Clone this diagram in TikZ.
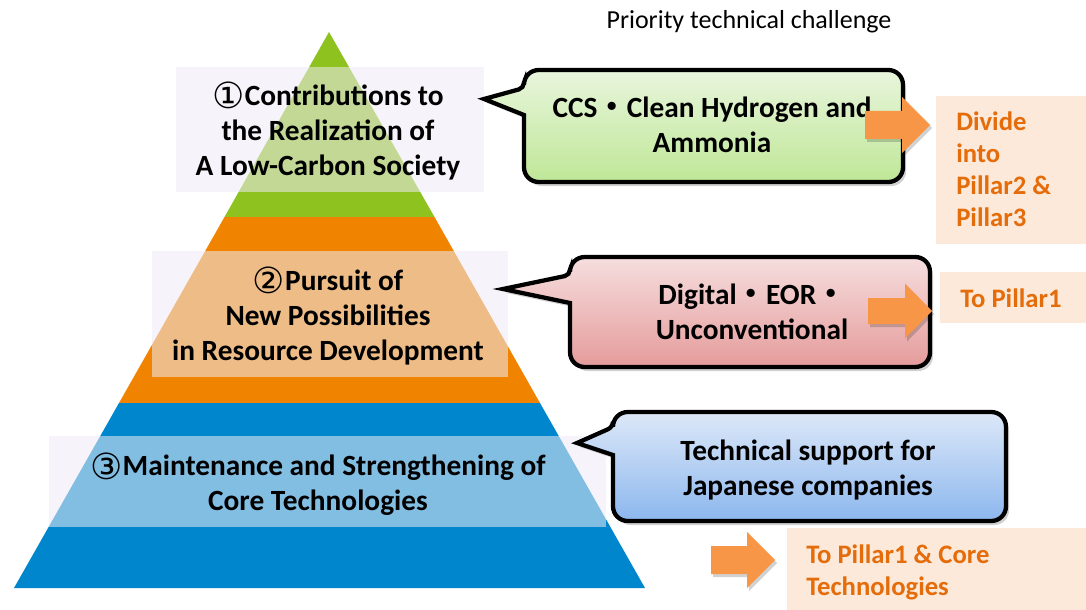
\documentclass[tikz,border=0pt]{standalone}
\usepackage{fontspec}
\setmainfont{Carlito}
\newfontfamily\circfont{DejaVu Sans}
\newfontfamily\jpfont{Noto Sans CJK JP}
\definecolor{pgreen}{HTML}{8DC21F}
\definecolor{porange}{HTML}{F08300}
\definecolor{pblue}{HTML}{0086CC}
\definecolor{labfill}{HTML}{EEEBF5}
\definecolor{gtop}{HTML}{E8F5DC}
\definecolor{gbot}{HTML}{BFE797}
\definecolor{rtop}{HTML}{F6DEDE}
\definecolor{rbot}{HTML}{E59B9B}
\definecolor{btop}{HTML}{DDE8F8}
\definecolor{bbot}{HTML}{8CB7EE}
\definecolor{arrowc}{HTML}{F79646}
\definecolor{peach}{HTML}{FDE9D9}
\definecolor{otext}{HTML}{E46C0A}
\newcommand\callpath[7]{(#1,#6) [rounded corners=11pt] -- (#1,#4) -- (#3,#4) -- (#3,#2) -- (#1,#2) [rounded corners=4pt] -- (#1,#5) [sharp corners] -- (#7) -- cycle}
\newcommand\arrowpath[6]{(#1,#4-#5) -- (#2,#4-#5) -- (#2,#4-#6) -- (#3,#4) -- (#2,#4+#6) -- (#2,#4+#5) -- (#1,#4+#5) -- cycle}
\newcommand\circled[1]{\raisebox{-0.12em}{\circfont\mdseries\fontsize{27}{26.25}\selectfont #1}}
\tikzset{
  labelbox/.style={fill=labfill, opacity=0.55},
  lbl/.style={align=center, inner sep=0pt, font=\bfseries\fontsize{22}{26.25}\selectfont},
  callout/.style={draw=black, line width=3.2pt},
  ctext/.style={align=center, inner sep=0pt, font=\bfseries\fontsize{22}{26.25}\selectfont},
  shadowc/.style={fill=black, opacity=0.18},
  orarrow/.style={fill=arrowc},
  obox/.style={fill=peach},
  otxt/.style={align=left, inner sep=0pt, text=otext, font=\bfseries\fontsize{20}{24}\selectfont},
}
\begin{document}
\begin{tikzpicture}[x=0.75pt,y=-0.75pt]
\useasboundingbox (0,0) rectangle (1086,610);
% pyramid
\fill[pgreen] (329,32) -- (434.5,217) -- (224.5,217) -- cycle;
\fill[porange] (224.5,217) -- (434.5,217) -- (540,403) -- (119,403) -- cycle;
\fill[pblue] (119,403) -- (540,403) -- (645,588) -- (14,588) -- cycle;
% label boxes
\fill[labelbox] (176,67) rectangle (484,192);
\fill[labelbox] (152,251) rectangle (508,377);
\fill[labelbox] (49,436) rectangle (606,527);
\node[lbl] (p1) at (328,131) {\circled{①}Contributions to\\the Realization of\\A Low-Carbon Society};
\node[lbl] (p2) at (328,316) {\circled{②}Pursuit of\\New Possibilities\\in Resource Development};
\node[lbl] (p3) at (318,484) {\circled{③}Maintenance and Strengthening of\\Core Technologies};
% title
\node[inner sep=0pt, font=\fontsize{19.5}{22}\selectfont] (title) at (749,22) {Priority technical challenge};
% callouts
\fill[shadowc] [shift={(3,4)}] \callpath{524}{70}{903}{182}{88}{115}{484,99};
\shadedraw[callout, top color=gtop, bottom color=gbot] \callpath{524}{70}{903}{182}{88}{115}{484,99};
\node[ctext] (c1) at (712,125) {CCS{\jpfont ・}Clean Hydrogen and\\Ammonia};
\fill[shadowc] [shift={(3,4)}] \callpath{570}{257}{930}{367}{275}{303}{503,289};
\shadedraw[callout, top color=rtop, bottom color=rbot] \callpath{570}{257}{930}{367}{275}{303}{503,289};
\node[ctext] (c2) at (752,312) {Digital{\jpfont ・}EOR{\jpfont ・}\\Unconventional};
\fill[shadowc] [shift={(3,4)}] \callpath{613}{412}{1006}{521}{427}{455}{577,443};
\shadedraw[callout, top color=btop, bottom color=bbot] \callpath{613}{412}{1006}{521}{427}{455}{577,443};
\node[ctext] (c3) at (808,470) {Technical support for\\Japanese companies};
% orange arrows
\fill[shadowc] [shift={(2,3)}] \arrowpath{865}{902}{930}{125}{14}{28};
\fill[orarrow] \arrowpath{865}{902}{930}{125}{14}{28};
\fill[shadowc] [shift={(2,3)}] \arrowpath{868}{905}{932}{311}{13}{27.5};
\fill[orarrow] \arrowpath{868}{905}{932}{311}{13}{27.5};
\fill[shadowc] [shift={(2,3)}] \arrowpath{711}{747}{775}{560}{14}{28};
\fill[orarrow] \arrowpath{711}{747}{775}{560}{14}{28};
% result boxes
\fill[obox] (936,96) rectangle (1086,244);
\node[otxt, anchor=north west] (r1) at (956,112) {Divide\\into\\Pillar2 \&\\Pillar3};
\fill[obox] (940,272) rectangle (1086,323);
\node[otxt, anchor=west] (r2) at (960,298) {To Pillar1};
\fill[obox] (787,528) rectangle (1086,610);
\node[otxt, anchor=north west] (r3) at (806,545) {To Pillar1 \& Core\\Technologies};
\end{tikzpicture}
\end{document}
